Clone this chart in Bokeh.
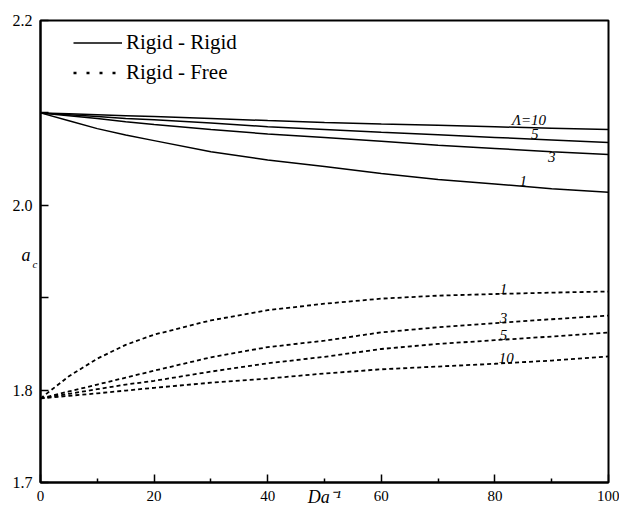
import numpy as np
from bokeh.plotting import figure
from bokeh.models import (Range1d, FixedTicker, Legend, LegendItem, Label,
                          ColumnDataSource)
from bokeh.core.properties import value
from bokeh.embed import file_html
from bokeh.resources import INLINE

# Inverse Darcy number grid
da_inv = [0, 5, 10, 15, 20, 30, 40, 50, 60, 70, 80, 90, 100]

# Critical wave number, rigid-rigid boundaries
rr_lam1 = [2.100, 2.0915, 2.083, 2.076, 2.070, 2.058, 2.049, 2.042, 2.0345, 2.028, 2.023, 2.018, 2.014]
rr_lam3 = [2.100, 2.097, 2.094, 2.0905, 2.0875, 2.082, 2.0772, 2.0733, 2.0694, 2.0649, 2.0615, 2.058, 2.055]
rr_lam5 = [2.100, 2.098, 2.096, 2.094, 2.0925, 2.089, 2.085, 2.082, 2.079, 2.0764, 2.0735, 2.0707, 2.068]
rr_lam10 = [2.100, 2.099, 2.098, 2.097, 2.096, 2.094, 2.0917, 2.0897, 2.088, 2.0865, 2.085, 2.0835, 2.082]

# Critical wave number, rigid-free boundaries
rf_lam1 = [1.791, 1.815, 1.834, 1.849, 1.860, 1.8755, 1.8865, 1.8935, 1.899, 1.9022, 1.904, 1.9055, 1.9067]
rf_lam3 = [1.791, 1.7985, 1.806, 1.8135, 1.821, 1.8355, 1.8465, 1.8535, 1.8625, 1.868, 1.8725, 1.8767, 1.8807]
rf_lam5 = [1.791, 1.796, 1.801, 1.806, 1.810, 1.820, 1.829, 1.836, 1.8445, 1.850, 1.854, 1.858, 1.8623]
rf_lam10 = [1.791, 1.7938, 1.7965, 1.7995, 1.8025, 1.808, 1.8125, 1.818, 1.8225, 1.8255, 1.8285, 1.832, 1.8364]

rr_labels = ["Λ=10", "5", "3", "1"]
rf_labels = ["1", "3", "5", "10"]

legend_labels = ["Rigid - Rigid", "Rigid - Free"]

y_ticks = [1.7, 1.8, 1.9, 2.0, 2.1, 2.2]
y_tick_text = ["1.7", "1.8", "", "2.0", "", "2.2"]
x_major = [0, 20, 40, 60, 80, 100]
x_minor = [10, 30, 50, 70, 90]

SERIF = "Liberation Serif"

p = figure(width=619, height=512, output_backend="svg", toolbar_location=None,
           x_range=Range1d(0, 100), y_range=Range1d(1.7, 2.2),
           min_border_left=40, min_border_right=11, min_border_top=20,
           min_border_bottom=30)
p.background_fill_color = "white"
p.border_fill_color = "white"
p.xgrid.visible = False
p.ygrid.visible = False
p.outline_line_color = "black"
p.outline_line_width = 2

# axes: inward ticks, serif labels
p.xaxis.ticker = FixedTicker(ticks=x_major, minor_ticks=x_minor)
p.yaxis.ticker = FixedTicker(ticks=y_ticks)
p.yaxis.major_label_overrides = {t: s for t, s in zip(y_ticks, y_tick_text)}
for ax in (p.xaxis[0], p.yaxis[0]):
    ax.axis_line_width = 2
    ax.axis_line_color = "black"
    ax.major_tick_in = 8
    ax.major_tick_out = 0
    ax.major_tick_line_width = 1.5
    ax.major_label_text_font = SERIF
    ax.major_label_text_color = "black"
    ax.major_label_standoff = 8
p.xaxis.minor_tick_in = 4
p.xaxis.minor_tick_out = 0
p.xaxis.minor_tick_line_width = 1.5
p.yaxis.minor_tick_line_color = None
p.xaxis.major_label_text_font_size = "15px"
p.yaxis.major_label_text_font_size = "16px"

# x title sits in the tick-label row, between 40 and 60
p.xaxis.axis_label = "Da\u207b\u00b9"
p.xaxis.axis_label_text_font = SERIF
p.xaxis.axis_label_text_font_style = "italic"
p.xaxis.axis_label_text_font_size = "18px"
p.xaxis.axis_label_text_color = "black"
p.xaxis.axis_label_standoff = -17

rr_series = [rr_lam10, rr_lam5, rr_lam3, rr_lam1]
rf_series = [rf_lam1, rf_lam3, rf_lam5, rf_lam10]

rr_renderers = []
for ys in rr_series:
    r = p.line(da_inv, ys, line_color="black", line_width=1.5)
    rr_renderers.append(r)
for ys in rf_series:
    p.line(da_inv, ys, line_color="black", line_width=1.8, line_dash="4 3")

# curve annotations placed on the curves
rr_label_at = [86, 87, 90, 85]
rr_label_side = ["bottom", "bottom", "top", "bottom"]
rf_label_at = [81.5, 81.5, 81.5, 82]

xs, ys_, txt, base = [], [], [], []
for ys, lab, at, side in zip(rr_series, rr_labels, rr_label_at, rr_label_side):
    xs.append(at)
    ys_.append(float(np.interp(at, da_inv, ys)))
    txt.append(lab)
    base.append(side)
for ys, lab, at in zip(rf_series, rf_labels, rf_label_at):
    xs.append(at)
    ys_.append(float(np.interp(at, da_inv, ys)))
    txt.append(lab)
    base.append("bottom")
src = ColumnDataSource(dict(x=xs, y=ys_, text=txt, base=base))
p.text(x="x", y="y", text="text", source=src, text_align="center",
       text_baseline="base", text_font=value(SERIF), text_font_style="italic",
       text_font_size="15px", text_color="black")

# legend (dotted sample drawn from a renderer with no visible points)
dots = p.line([np.nan, np.nan], [np.nan, np.nan], line_color="black",
              line_width=2.5, line_dash="3 10")
legend = Legend(items=[LegendItem(label=legend_labels[0], renderers=[rr_renderers[3]]),
                       LegendItem(label=legend_labels[1], renderers=[dots])],
                location=(33, 396), padding=0, margin=0, spacing=3,
                glyph_width=49, glyph_height=27, label_height=27,
                label_standoff=4, label_text_font=SERIF,
                label_text_font_size="21px", label_text_color="black",
                border_line_color=None, background_fill_alpha=0)
p.add_layout(legend)

# y title a_c: the letter in the left panel, the subscript in the top panel
def title_label(x, y, text, size):
    return Label(x=x, y=y, x_units="screen", y_units="screen", text=text,
                 text_font=SERIF, text_font_style="italic",
                 text_baseline="alphabetic",
                 text_font_size=size, text_color="black")

p.add_layout(title_label(21, 228, "a", "18px"), "left")
p.add_layout(title_label(-8, -243, "c", "11px"), "above")

open("out.html", "w").write(file_html(p, INLINE))
